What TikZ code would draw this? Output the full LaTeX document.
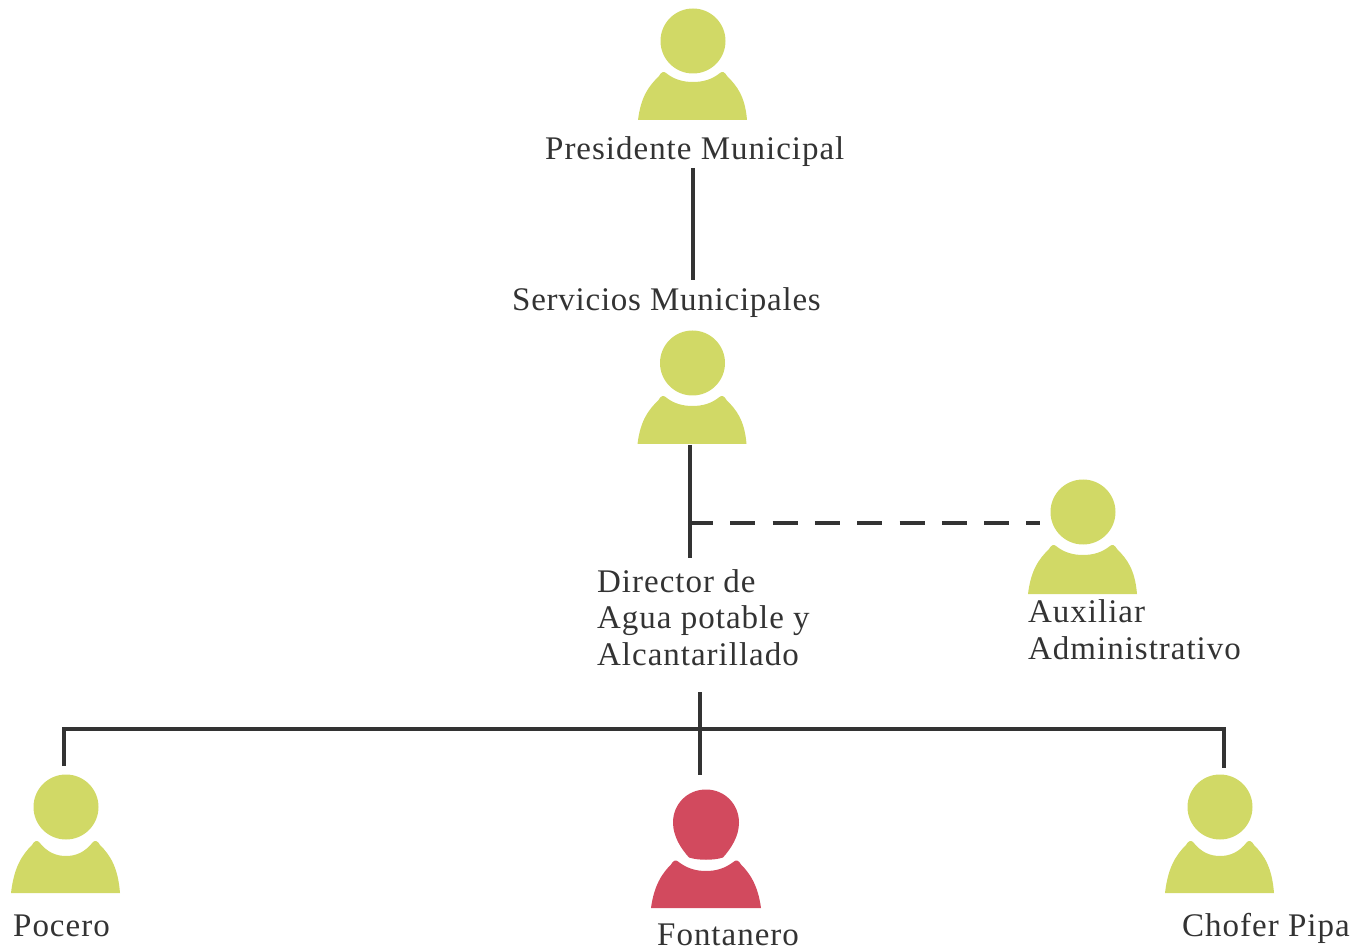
\documentclass[tikz,border=0pt]{standalone}
\usepackage{fontspec}
\setmainfont[LetterSpace=3]{Liberation Serif}
\definecolor{olivec}{HTML}{D1D966}
\definecolor{redc}{HTML}{D24A5E}
\definecolor{txtc}{HTML}{333333}
\definecolor{linec}{HTML}{333333}
\tikzset{
  x=1pt,y=-1pt,
  label text/.style={anchor=base west,inner sep=0pt,text=txtc,font=\fontsize{33}{36.5}\selectfont,align=left},
  conn/.style={draw=linec,line width=3.6pt},
  pics/person/.style n args={3}{code={
    \fill[pic actions] (0,#2) circle[radius=32.5];
    \fill[pic actions] (-55,#1) .. controls (-52,{#1*0.5}) and (-44,14) .. (-34,4) .. controls (-32,0) and (-29,-1) .. (-27,1) .. controls (-19,{#3*0.75}) and (-10,#3) .. (0,#3) .. controls (10,#3) and (19,{#3*0.75}) .. (27,1) .. controls (29,-1) and (32,0) .. (34,4) .. controls (44,14) and (52,{#1*0.5}) .. (54,#1) -- cycle;
  }},
  pics/personred/.style={code={
    \fill[pic actions] (0,-71) .. controls (19,-71) and (33,-56) .. (33,-38) .. controls (33,-24) and (25,-12) .. (17,-3) .. controls (8,0) and (-8,0) .. (-17,-3) .. controls (-25,-12) and (-33,-24) .. (-33,-38) .. controls (-33,-56) and (-19,-71) .. (0,-71) -- cycle;
    \fill[pic actions] (-55,47.5) .. controls (-52,25) and (-44,13) .. (-35,4) .. controls (-33,0) and (-30,-1) .. (-28,1) .. controls (-19,8) and (-10,10.5) .. (0,10.5) .. controls (10,10.5) and (19,8) .. (28,1) .. controls (30,-1) and (33,0) .. (35,4) .. controls (44,13) and (52,25) .. (55,47.5) -- cycle;
  }},
}
\begin{document}
\begin{tikzpicture}
\useasboundingbox (0,0) rectangle (1369,949);
\pic[fill=olivec] at (693,72) {person={48}{-31}{10}};
\pic[fill=olivec] at (692.5,396) {person={48}{-33}{10}};
\pic[fill=olivec] at (1083,545) {person={49}{-33}{10}};
\pic[fill=olivec] at (66,841) {person={52}{-34}{15}};
\pic[fill=olivec] at (1220,841) {person={52}{-34}{15}};
\pic[fill=redc] at (706,860.5) {personred};

\node[label text] (pres) at (545,160) {Presidente Municipal};
\node[label text] (serv) at (512,311) {\addfontfeature{LetterSpace=2.3}Servicios Municipales};
\node[label text] (dir) at (597,665) {Director de\\Agua potable y\\Alcantarillado};
\node[label text] (aux) at (1028,659) {Auxiliar\\Administrativo};
\node[label text] (poc) at (13,936) {Pocero};
\node[label text] (fon) at (657,945) {Fontanero};
\node[label text] (cho) at (1182,936) {Chofer Pipa};

\coordinate (a1) at (693,168);
\coordinate (a2) at (693,280);
\coordinate (b1) at (690,445);
\coordinate (b2) at (690,558);
\coordinate (bj) at (690,523);
\coordinate (b3) at (1040,523);
\coordinate (c1) at (700,692);
\coordinate (c2) at (700,775);
\coordinate (cj) at (700,729);
\coordinate (l1) at (64,766);
\coordinate (r1) at (1224,768);

\draw[conn] (a1) -- (a2);
\draw[conn] (b1) -- (b2);
\draw[conn,dash pattern=on 25pt off 17.3pt,dash phase=2pt] (bj) -- (b3);
\draw[conn] (c1) -- (c2);
\draw[conn] (l1) |- (cj) -| (r1);
\end{tikzpicture}
\end{document}
